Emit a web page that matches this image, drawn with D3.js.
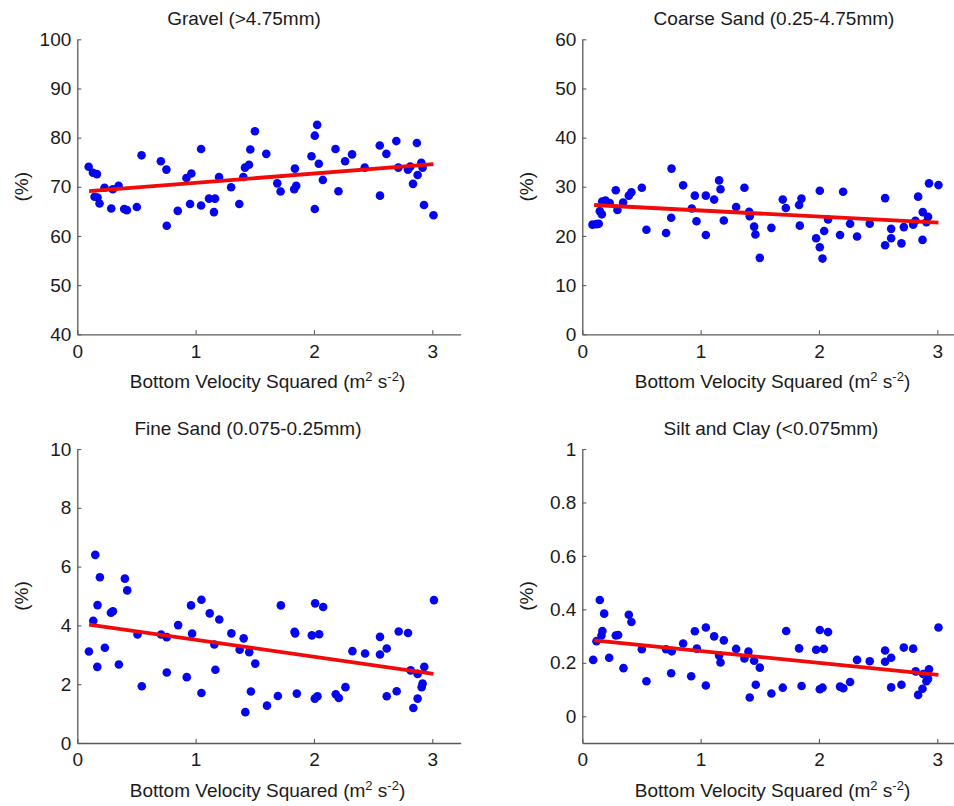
<!DOCTYPE html>
<html>
<head>
<meta charset="utf-8">
<script src="https://cdn.jsdelivr.net/npm/d3@7"></script>
<style>
  html, body { margin: 0; padding: 0; background: #fff; }
  svg { display: block; }
  text { font-family: "Liberation Sans", Arial, Helvetica, sans-serif; fill: #1a1a1a; }
</style>
</head>
<body>
<svg id="chart" width="954" height="806"></svg>
<script>
// ---- Data: sediment fractions vs bottom velocity squared ----
const titles = [
  "Gravel (>4.75mm)",
  "Coarse Sand (0.25-4.75mm)",
  "Fine Sand (0.075-0.25mm)",
  "Silt and Clay (<0.075mm)"
];
const xAxisLabel = "Bottom Velocity Squared";
const yAxisLabel = "(%)";
const xTicks = [0, 1, 2, 3];
const xDomain = [0, 3.24];

const gravelTicks = [40, 50, 60, 70, 80, 90, 100];
const coarseTicks = [0, 10, 20, 30, 40, 50, 60];
const fineTicks = [0, 2, 4, 6, 8, 10];
const siltTicks = [0, 0.2, 0.4, 0.6, 0.8, 1];

const gravelX = [0.096, 0.132, 0.166, 0.146, 0.171, 0.188, 0.23, 0.287, 0.30, 0.349, 0.396, 0.419, 0.503, 0.543, 0.706, 0.753, 0.756, 0.849, 0.922, 0.964, 0.953, 1.046, 1.046, 1.113, 1.164, 1.155, 1.198, 1.30, 1.369, 1.403, 1.417, 1.451, 1.462, 1.501, 1.597, 1.69, 1.718, 1.839, 1.833, 1.85, 1.979, 2.007, 2.027, 2.041, 2.007, 2.075, 2.182, 2.207, 2.263, 2.322, 2.429, 2.556, 2.612, 2.558, 2.696, 2.713, 2.794, 2.814, 2.837, 2.870, 2.876, 2.907, 2.918, 2.93, 3.01];
const gravelY = [74.07, 72.85, 72.58, 67.97, 67.83, 66.6, 69.8, 65.6, 69.5, 70.2, 65.5, 65.25, 65.9, 76.4, 75.2, 73.5, 62.07, 65.1, 71.8, 72.7, 66.5, 77.7, 66.2, 67.6, 67.6, 64.85, 72.0, 69.9, 66.5, 72.0, 73.9, 74.5, 77.6, 81.3, 76.7, 70.7, 69.05, 73.7, 69.5, 70.2, 76.2, 80.4, 82.6, 74.7, 65.5, 71.4, 77.7, 69.1, 75.2, 76.6, 73.9, 78.4, 76.7, 68.2, 79.3, 73.9, 73.5, 74.1, 70.6, 78.9, 72.4, 74.9, 73.9, 66.3, 64.2];

const coarseX = [0.086, 0.12, 0.139, 0.148, 0.165, 0.168, 0.196, 0.232, 0.283, 0.297, 0.345, 0.393, 0.415, 0.503, 0.542, 0.708, 0.754, 0.751, 0.852, 0.925, 0.951, 0.965, 1.044, 1.044, 1.114, 1.156, 1.168, 1.196, 1.3, 1.37, 1.41, 1.415, 1.452, 1.463, 1.5, 1.598, 1.694, 1.72, 1.832, 1.852, 1.838, 1.976, 2.007, 2.007, 2.03, 2.044, 2.077, 2.178, 2.204, 2.263, 2.322, 2.429, 2.559, 2.559, 2.61, 2.61, 2.697, 2.717, 2.796, 2.815, 2.838, 2.877, 2.875, 2.908, 2.922, 2.93, 3.01];
const coarseY = [22.3, 22.4, 22.5, 25.05, 24.4, 27.0, 27.2, 26.7, 29.3, 25.3, 26.8, 28.2, 28.9, 29.8, 21.25, 20.6, 33.7, 23.7, 30.3, 25.6, 28.2, 23.0, 28.2, 20.2, 27.4, 31.3, 29.5, 23.15, 25.9, 29.8, 24.9, 24.0, 21.9, 20.3, 15.55, 21.65, 27.4, 25.7, 26.3, 27.6, 22.1, 19.55, 29.2, 17.7, 15.4, 21.0, 23.35, 20.2, 29.0, 22.5, 19.9, 22.5, 27.7, 18.1, 21.45, 19.55, 18.5, 21.8, 22.3, 23.1, 28.0, 24.85, 19.2, 22.8, 23.9, 30.7, 30.35];

const fineX = [0.098, 0.135, 0.152, 0.171, 0.169, 0.191, 0.233, 0.284, 0.301, 0.351, 0.402, 0.422, 0.509, 0.545, 0.708, 0.756, 0.756, 0.852, 0.925, 0.961, 0.97, 1.049, 1.049, 1.119, 1.158, 1.167, 1.2, 1.302, 1.372, 1.406, 1.42, 1.453, 1.467, 1.504, 1.603, 1.695, 1.72, 1.836, 1.841, 1.855, 1.982, 2.01, 2.007, 2.03, 2.044, 2.078, 2.184, 2.21, 2.266, 2.325, 2.432, 2.558, 2.558, 2.615, 2.615, 2.699, 2.716, 2.795, 2.817, 2.84, 2.876, 2.876, 2.91, 2.918, 2.932, 3.014];
const fineY = [3.11, 4.16, 6.40, 4.69, 2.59, 5.64, 3.24, 4.43, 4.48, 2.67, 5.59, 5.19, 3.69, 1.93, 3.69, 3.60, 2.40, 4.01, 2.24, 4.68, 3.72, 4.875, 1.70, 4.41, 3.35, 2.49, 4.20, 3.73, 3.17, 3.56, 1.05, 3.09, 1.75, 2.70, 1.27, 1.60, 4.68, 3.78, 3.73, 1.68, 3.66, 4.75, 1.51, 1.59, 3.70, 4.625, 1.66, 1.53, 1.90, 3.125, 3.045, 3.61, 3.01, 3.215, 1.59, 1.76, 3.795, 3.74, 2.47, 1.19, 2.35, 1.51, 1.90, 2.02, 2.59, 4.86];

const siltX = [0.092, 0.12, 0.148, 0.162, 0.17, 0.185, 0.227, 0.283, 0.303, 0.348, 0.393, 0.415, 0.503, 0.542, 0.708, 0.756, 0.751, 0.852, 0.92, 0.951, 0.968, 1.044, 1.044, 1.114, 1.156, 1.168, 1.196, 1.3, 1.37, 1.404, 1.415, 1.452, 1.466, 1.5, 1.598, 1.694, 1.723, 1.832, 1.853, 1.976, 2.007, 2.007, 2.03, 2.041, 2.077, 2.178, 2.206, 2.263, 2.322, 2.429, 2.559, 2.559, 2.61, 2.61, 2.697, 2.717, 2.796, 2.817, 2.838, 2.875, 2.88, 2.908, 2.922, 2.93, 3.01];
const siltY = [0.211, 0.281, 0.435, 0.302, 0.319, 0.384, 0.219, 0.302, 0.304, 0.18, 0.380, 0.353, 0.251, 0.131, 0.251, 0.243, 0.161, 0.272, 0.150, 0.318, 0.253, 0.332, 0.115, 0.299, 0.227, 0.201, 0.284, 0.252, 0.216, 0.242, 0.070, 0.208, 0.118, 0.182, 0.085, 0.107, 0.319, 0.254, 0.113, 0.249, 0.323, 0.101, 0.107, 0.252, 0.315, 0.111, 0.105, 0.128, 0.211, 0.206, 0.246, 0.204, 0.219, 0.108, 0.118, 0.257, 0.253, 0.168, 0.080, 0.103, 0.158, 0.131, 0.140, 0.176, 0.332];

// Linear fit end points (x from first to last sample)
const fitX = [0.1, 3.01];
const gravelFit = [69.1, 74.6];
const coarseFit = [26.3, 22.7];
const fineFit = [4.03, 2.35];
const siltFit = [0.284, 0.155];

// ---- Layout ----
const panels = [
  { title: titles[0], xs: gravelX, ys: gravelY, fit: gravelFit, ticks: gravelTicks, yDomain: [40, 100],
    left: 77.3, top: 39.3, bottom: 334.3, titleX: 244 },
  { title: titles[1], xs: coarseX, ys: coarseY, fit: coarseFit, ticks: coarseTicks, yDomain: [0, 60],
    left: 582.3, top: 39.3, bottom: 334.3, titleX: 774 },
  { title: titles[2], xs: fineX, ys: fineY, fit: fineFit, ticks: fineTicks, yDomain: [0, 10],
    left: 77.3, top: 449, bottom: 743, titleX: 248 },
  { title: titles[3], xs: siltX, ys: siltY, fit: siltFit, ticks: siltTicks, yDomain: [-0.1, 1],
    left: 582.3, top: 449, bottom: 743, titleX: 771 }
];
const plotWidth = 383.4;
const axisColor = "#5a5a5a";
const dotColor = "#0505ee";
const lineColor = "#f00a0a";
const fontSize = 19;

const svg = d3.select("#chart");

panels.forEach(p => {
  const x = d3.scaleLinear().domain(xDomain).range([p.left, p.left + plotWidth]);
  const y = d3.scaleLinear().domain(p.yDomain).range([p.bottom, p.top]);
  const g = svg.append("g");

  // x axis (ticks pointing inward)
  const xAxis = g.append("g")
    .attr("transform", `translate(0,${p.bottom})`)
    .call(d3.axisBottom(x).tickValues(xTicks).tickSizeInner(-4).tickSizeOuter(0).tickPadding(10).tickFormat(d3.format("d")));
  xAxis.select(".domain").attr("stroke", axisColor).attr("stroke-width", 1.3);
  xAxis.selectAll(".tick line").attr("stroke", axisColor).attr("stroke-width", 1.1);
  xAxis.selectAll(".tick text").attr("font-size", fontSize).attr("dy", "0.71em").attr("fill", "#1a1a1a")
    .attr("y", 10);

  // y axis (ticks pointing inward)
  const yAxis = g.append("g")
    .attr("transform", `translate(${p.left},0)`)
    .call(d3.axisLeft(y).tickValues(p.ticks).tickSizeInner(-4).tickSizeOuter(0).tickPadding(6).tickFormat(d => String(+d.toFixed(2))));
  yAxis.select(".domain").attr("stroke", axisColor).attr("stroke-width", 1.3);
  yAxis.selectAll(".tick line").attr("stroke", axisColor).attr("stroke-width", 1.1);
  yAxis.selectAll(".tick text").attr("font-size", fontSize).attr("fill", "#1a1a1a").attr("x", -6);
  xAxis.selectAll("text, line, path").attr("font-family", null);
  g.selectAll(".tick text").attr("font-family", "'Liberation Sans', Arial, sans-serif");

  // points
  const pts = p.xs.map((v, i) => [v, p.ys[i]]);
  g.append("g").selectAll("circle").data(pts).join("circle")
    .attr("cx", d => x(d[0]))
    .attr("cy", d => y(d[1]))
    .attr("r", 4.3)
    .attr("fill", dotColor);

  // linear fit
  g.append("line")
    .attr("x1", x(fitX[0])).attr("y1", y(p.fit[0]))
    .attr("x2", x(fitX[1])).attr("y2", y(p.fit[1]))
    .attr("stroke", lineColor).attr("stroke-width", 3.8).attr("stroke-linecap", "butt");

  // title
  g.append("text")
    .attr("x", p.titleX).attr("y", p.top - 14.5)
    .attr("text-anchor", "middle").attr("font-size", fontSize)
    .text(p.title);

  // x label with superscripts
  const xl = g.append("text")
    .attr("x", p.left + plotWidth / 2 - 1.5).attr("y", p.bottom + 54)
    .attr("text-anchor", "middle").attr("font-size", fontSize);
  xl.append("tspan").text(xAxisLabel + " (m");
  xl.append("tspan").attr("dy", -7).attr("font-size", 13).text("2");
  xl.append("tspan").attr("dy", 7).text(" s");
  xl.append("tspan").attr("dy", -7).attr("font-size", 13).text("-2");
  xl.append("tspan").attr("dy", 7).text(")");

  // y label
  g.append("text")
    .attr("transform", `translate(${p.left - 55.6},${(p.top + p.bottom) / 2}) rotate(-90)`)
    .attr("text-anchor", "middle").attr("dominant-baseline", "central")
    .attr("font-size", fontSize)
    .text(yAxisLabel);
});
</script>
</body>
</html>
